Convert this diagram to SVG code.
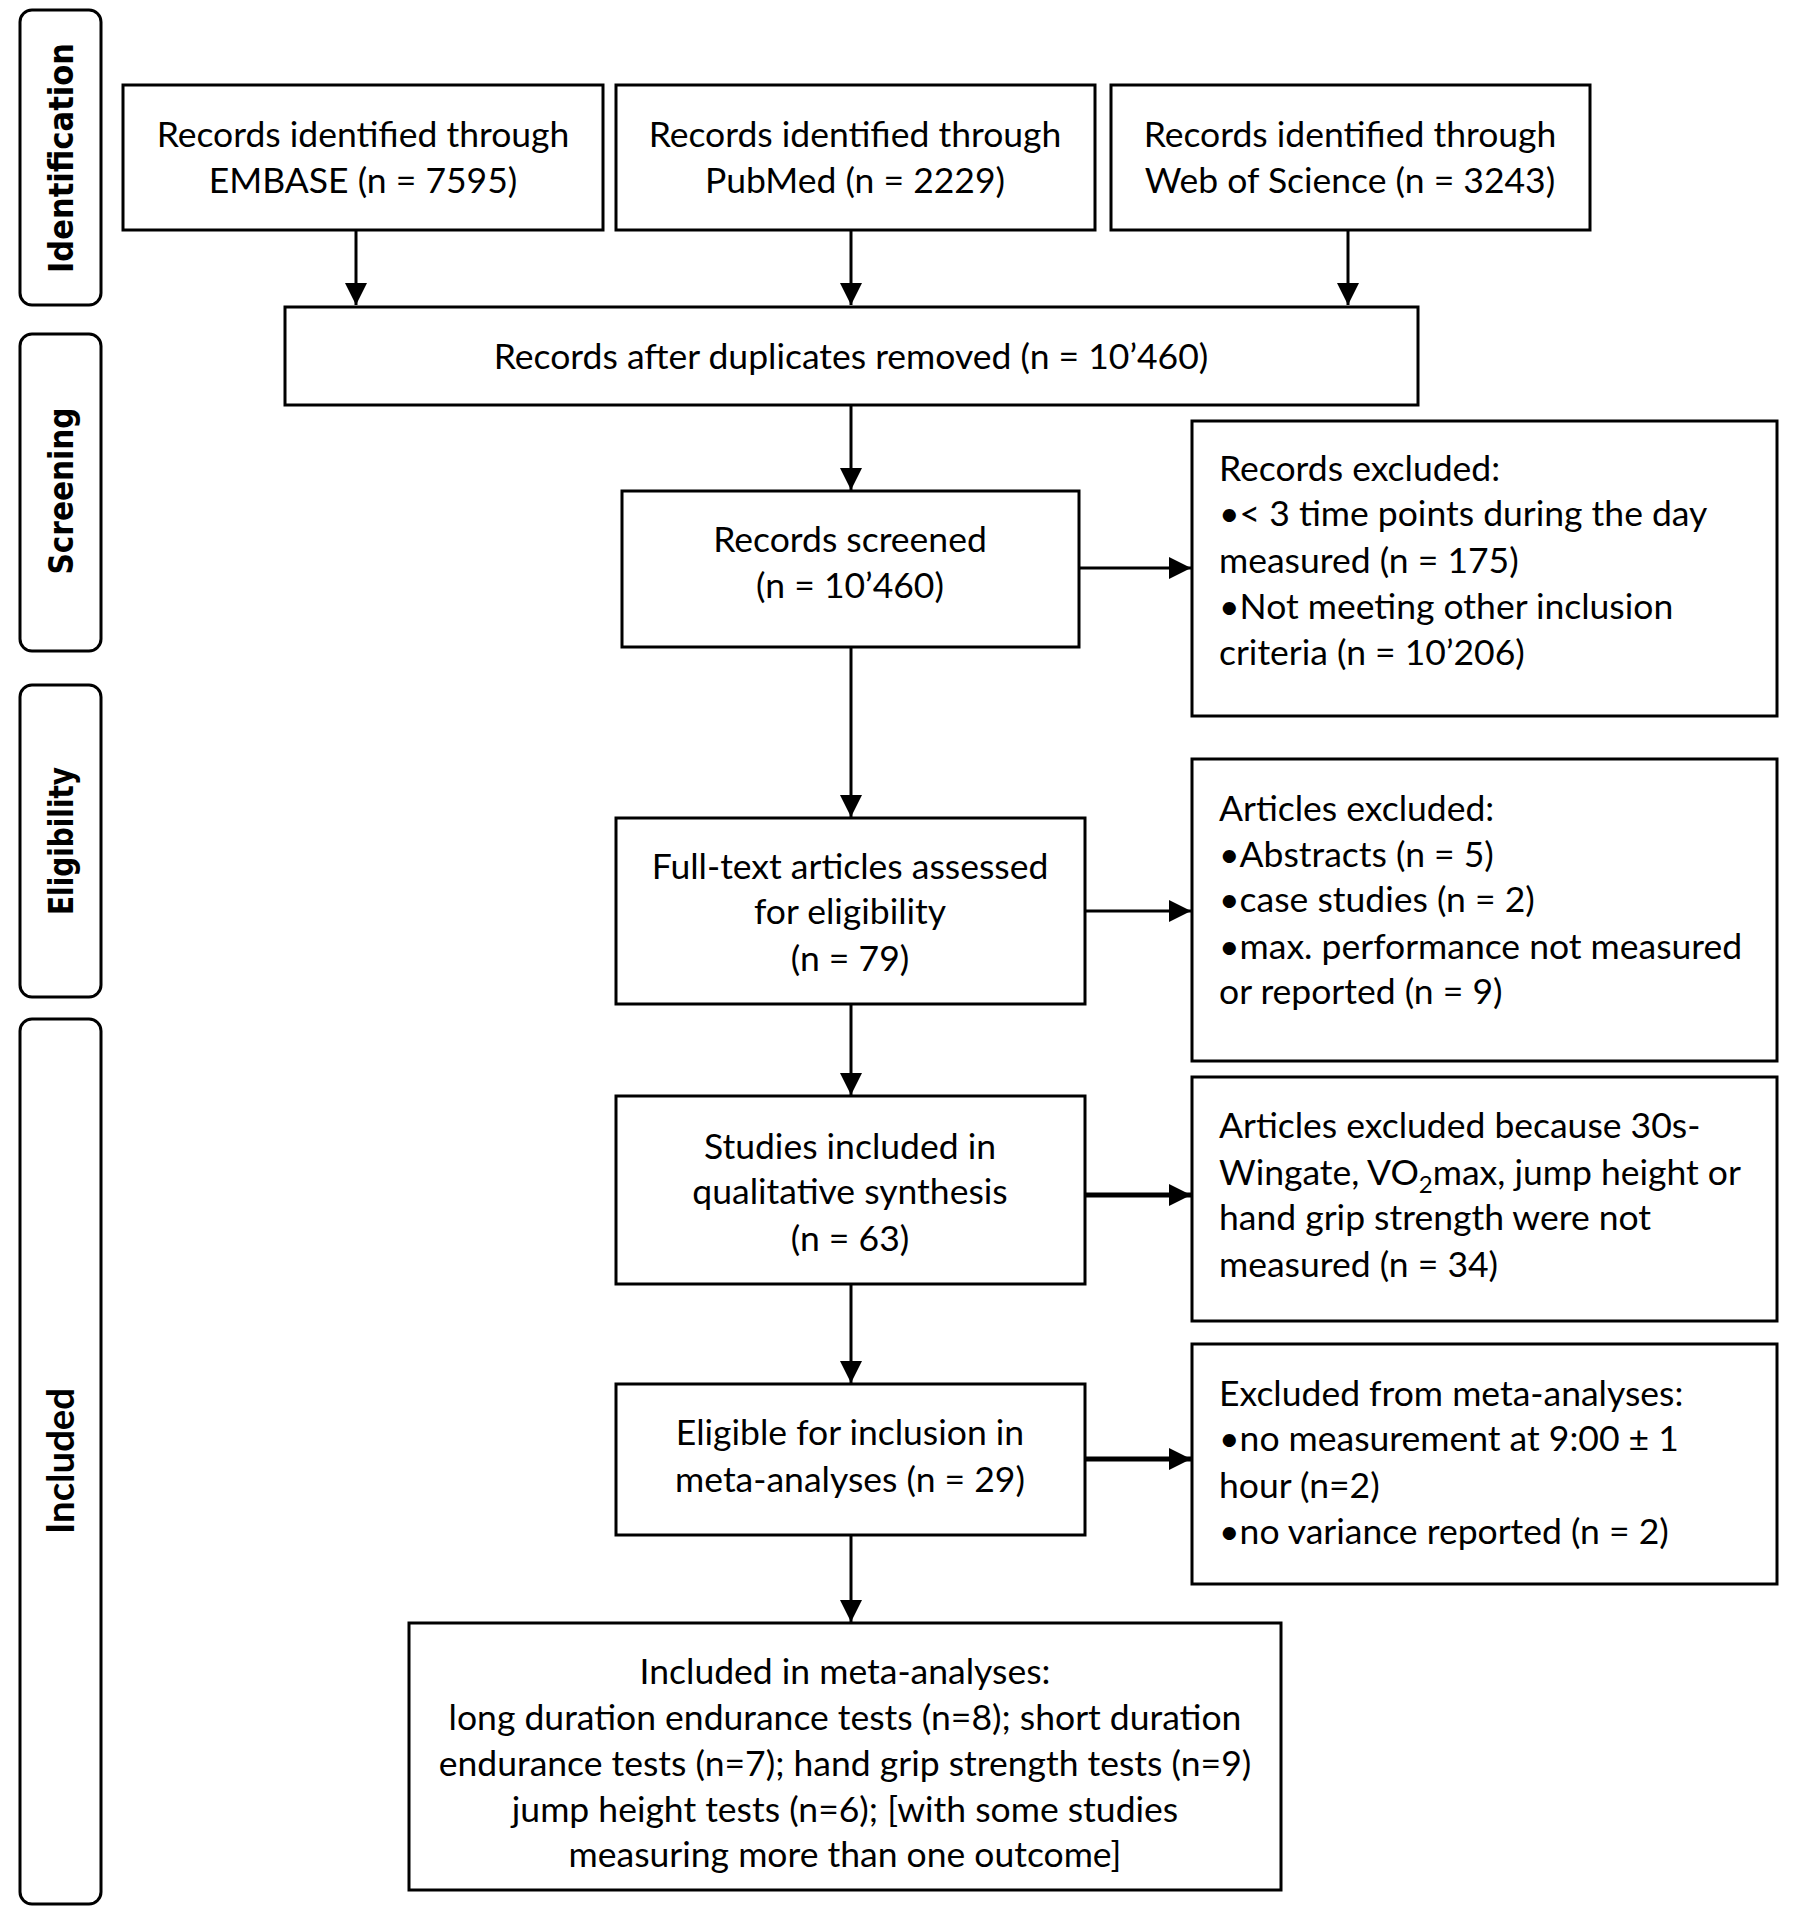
<svg xmlns="http://www.w3.org/2000/svg" width="1800" height="1925" viewBox="0 0 1800 1925">
<style>
.box{fill:#fff;stroke:#000;stroke-width:3}
.side{fill:#fff;stroke:#000;stroke-width:3}
.t{font-family:Lato,"Open Sans","Liberation Sans",sans-serif;font-size:35.5px;fill:#000}
.c{text-anchor:middle}
.sl{font-family:"DejaVu Sans",Verdana,sans-serif;font-weight:bold;font-size:33px;fill:#000;text-anchor:middle}
.sl2{font-family:Lato,"Liberation Sans",sans-serif;font-weight:bold;font-size:38px;fill:#000;text-anchor:middle}
.ln{stroke:#000;stroke-width:3;fill:none}
.lnb{stroke:#000;stroke-width:5;fill:none}
</style>
<defs>
<marker id="ah" markerUnits="userSpaceOnUse" markerWidth="24" markerHeight="22" refX="22" refY="11" orient="auto">
<path d="M0,0 L22,11 L0,22 z" fill="#000"/>
</marker>
</defs>
<rect width="1800" height="1925" fill="#fff"/>

<g id="side-identification">
<rect class="side" x="20" y="10" width="81" height="295" rx="12"/>
<text class="sl" transform="translate(73,158) rotate(-90)" textLength="230" lengthAdjust="spacingAndGlyphs">Identification</text>
</g>
<g id="side-screening">
<rect class="side" x="20" y="334" width="81" height="317" rx="12"/>
<text class="sl" transform="translate(73,491) rotate(-90)" textLength="167" lengthAdjust="spacingAndGlyphs">Screening</text>
</g>
<g id="side-eligibility">
<rect class="side" x="20" y="685" width="81" height="312" rx="12"/>
<text class="sl" transform="translate(73,841) rotate(-90)" textLength="148" lengthAdjust="spacingAndGlyphs">Eligibility</text>
</g>
<g id="side-included">
<rect class="side" x="20" y="1019" width="81" height="885" rx="12"/>
<text class="sl2" transform="translate(74,1461) rotate(-90)" textLength="146" lengthAdjust="spacingAndGlyphs">Included</text>
</g>

<g id="connectors">
<line class="ln" x1="356" y1="230" x2="356" y2="305" marker-end="url(#ah)"/>
<line class="ln" x1="851" y1="230" x2="851" y2="305" marker-end="url(#ah)"/>
<line class="ln" x1="1348" y1="230" x2="1348" y2="305" marker-end="url(#ah)"/>
<line class="ln" x1="851" y1="405" x2="851" y2="490" marker-end="url(#ah)"/>
<line class="ln" x1="1079" y1="568" x2="1191" y2="568" marker-end="url(#ah)"/>
<line class="ln" x1="851" y1="647" x2="851" y2="817" marker-end="url(#ah)"/>
<line class="ln" x1="1085" y1="911" x2="1191" y2="911" marker-end="url(#ah)"/>
<line class="ln" x1="851" y1="1004" x2="851" y2="1095" marker-end="url(#ah)"/>
<line class="lnb" x1="1085" y1="1195" x2="1191" y2="1195" marker-end="url(#ah)"/>
<line class="ln" x1="851" y1="1284" x2="851" y2="1383" marker-end="url(#ah)"/>
<line class="lnb" x1="1085" y1="1459" x2="1191" y2="1459" marker-end="url(#ah)"/>
<line class="ln" x1="851" y1="1535" x2="851" y2="1622" marker-end="url(#ah)"/>
</g>

<g id="embase">
<rect class="box" x="123" y="85" width="480" height="145"/>
<text class="t c" x="363" y="147">Records identified through</text>
<text class="t c" x="363" y="193">EMBASE (n = 7595)</text>
</g>
<g id="pubmed">
<rect class="box" x="616" y="85" width="479" height="145"/>
<text class="t c" x="855" y="147">Records identified through</text>
<text class="t c" x="855" y="193">PubMed (n = 2229)</text>
</g>
<g id="wos">
<rect class="box" x="1111" y="85" width="479" height="145"/>
<text class="t c" x="1350" y="147">Records identified through</text>
<text class="t c" x="1350" y="193">Web of Science (n = 3243)</text>
</g>
<g id="duplicates">
<rect class="box" x="285" y="307" width="1133" height="98"/>
<text class="t c" x="851" y="369">Records after duplicates removed (n = 10’460)</text>
</g>
<g id="screened">
<rect class="box" x="622" y="491" width="457" height="156"/>
<text class="t c" x="850" y="552">Records screened</text>
<text class="t c" x="850" y="598">(n = 10’460)</text>
</g>
<g id="records-excluded">
<rect class="box" x="1192" y="421" width="585" height="295"/>
<text class="t" x="1219" y="481">Records excluded:</text>
<text class="t" x="1219" y="526">•&lt; 3 time points during the day</text>
<text class="t" x="1219" y="573">measured (n = 175)</text>
<text class="t" x="1219" y="619">•Not meeting other inclusion</text>
<text class="t" x="1219" y="665">criteria (n = 10’206)</text>
</g>
<g id="fulltext">
<rect class="box" x="616" y="818" width="469" height="186"/>
<text class="t c" x="850" y="879">Full-text articles assessed</text>
<text class="t c" x="850" y="924">for eligibility</text>
<text class="t c" x="850" y="971">(n = 79)</text>
</g>
<g id="articles-excluded">
<rect class="box" x="1192" y="759" width="585" height="302"/>
<text class="t" x="1219" y="821">Articles excluded:</text>
<text class="t" x="1219" y="867">•Abstracts (n = 5)</text>
<text class="t" x="1219" y="912">•case studies (n = 2)</text>
<text class="t" x="1219" y="959">•max. performance not measured</text>
<text class="t" x="1219" y="1004">or reported (n = 9)</text>
</g>
<g id="qualitative">
<rect class="box" x="616" y="1096" width="469" height="188"/>
<text class="t c" x="850" y="1159">Studies included in</text>
<text class="t c" x="850" y="1204">qualitative synthesis</text>
<text class="t c" x="850" y="1251">(n = 63)</text>
</g>
<g id="articles-excluded-2">
<rect class="box" x="1192" y="1077" width="585" height="244"/>
<text class="t" x="1219" y="1138">Articles excluded because 30s-</text>
<text class="t" x="1219" y="1185">Wingate, VO<tspan font-size="24" dy="8">2</tspan><tspan dy="-8">max, jump height or</tspan></text>
<text class="t" x="1219" y="1230">hand grip strength were not</text>
<text class="t" x="1219" y="1277">measured (n = 34)</text>
</g>
<g id="eligible">
<rect class="box" x="616" y="1384" width="469" height="151"/>
<text class="t c" x="850" y="1445">Eligible for inclusion in</text>
<text class="t c" x="850" y="1492">meta-analyses (n = 29)</text>
</g>
<g id="excluded-meta">
<rect class="box" x="1192" y="1344" width="585" height="240"/>
<text class="t" x="1219" y="1406">Excluded from meta-analyses:</text>
<text class="t" x="1219" y="1451">•no measurement at 9:00 ± 1</text>
<text class="t" x="1219" y="1498">hour (n=2)</text>
<text class="t" x="1219" y="1544">•no variance reported (n = 2)</text>
</g>
<g id="included-meta">
<rect class="box" x="409" y="1623" width="872" height="267"/>
<text class="t c" x="845" y="1684">Included in meta-analyses:</text>
<text class="t c" x="845" y="1730">long duration endurance tests (n=8); short duration</text>
<text class="t c" x="845" y="1776">endurance tests (n=7); hand grip strength tests (n=9)</text>
<text class="t c" x="845" y="1822">jump height tests (n=6); [with some studies</text>
<text class="t c" x="845" y="1867">measuring more than one outcome]</text>
</g>
</svg>
